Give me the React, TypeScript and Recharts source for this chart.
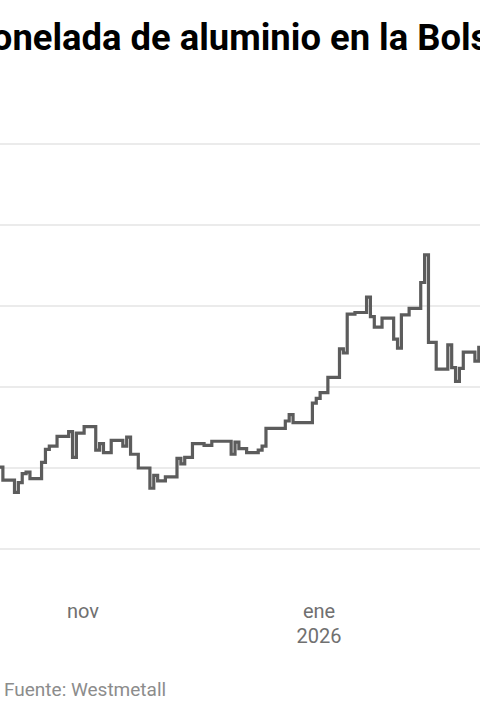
import React from 'react';
import { LineChart, Line, XAxis, YAxis, CartesianGrid } from 'recharts';

// LME aluminium cash price (USD / t), trading days
const dates = [
  '2025-10-09', '2025-10-10', '2025-10-13', '2025-10-14', '2025-10-15', '2025-10-16', '2025-10-17',
  '2025-10-20', '2025-10-21', '2025-10-22', '2025-10-23', '2025-10-24',
  '2025-10-27', '2025-10-28', '2025-10-29', '2025-10-30', '2025-10-31',
  '2025-11-03', '2025-11-04', '2025-11-05', '2025-11-06', '2025-11-07',
  '2025-11-10', '2025-11-11', '2025-11-12', '2025-11-13', '2025-11-14',
  '2025-11-17', '2025-11-18', '2025-11-19', '2025-11-20', '2025-11-21',
  '2025-11-24', '2025-11-25', '2025-11-26', '2025-11-27', '2025-11-28',
  '2025-12-01', '2025-12-02', '2025-12-03', '2025-12-04', '2025-12-05',
  '2025-12-08', '2025-12-09', '2025-12-10', '2025-12-11', '2025-12-12',
  '2025-12-15', '2025-12-16', '2025-12-17', '2025-12-18', '2025-12-19',
  '2025-12-22', '2025-12-23', '2025-12-24', '2025-12-29', '2025-12-30', '2025-12-31',
  '2026-01-02', '2026-01-05', '2026-01-06', '2026-01-07', '2026-01-08', '2026-01-09',
  '2026-01-12', '2026-01-13', '2026-01-14', '2026-01-15', '2026-01-16',
  '2026-01-19', '2026-01-20', '2026-01-21', '2026-01-22', '2026-01-23',
  '2026-01-26', '2026-01-27', '2026-01-28', '2026-01-29', '2026-01-30',
  '2026-02-02', '2026-02-03', '2026-02-04', '2026-02-05', '2026-02-06',
  '2026-02-09', '2026-02-10', '2026-02-11',
];

const prices = [
  2801, 2785, 2770, 2782, 2793, 2795, 2787,
  2807, 2823, 2827, 2827, 2839,
  2845, 2813, 2843, 2843, 2851,
  2822, 2830, 2819, 2819, 2834,
  2827, 2838, 2817, 2817, 2800,
  2775, 2791, 2784, 2784, 2789,
  2812, 2805, 2813, 2813, 2830,
  2828, 2828, 2833, 2833, 2833,
  2817, 2832, 2824, 2824, 2819,
  2822, 2827, 2849, 2849, 2849,
  2858, 2866, 2856, 2880, 2886, 2893,
  2912, 2947, 2942, 2990, 2990, 2992,
  3011, 2987, 2974, 2974, 2985,
  2959, 2948, 2989, 2989, 2997,
  3029, 3063, 2955, 2955, 2922,
  2952, 2924, 2907, 2923, 2943,
  2932, 2949, 2958,
];

const tickDates = ['2025-11-01', '2026-01-01'];
const tickLabels = [['nov'], ['ene', '2026']];
const yTicks = [2700, 2800, 2900, 3000, 3100, 3200];

const data = dates.map((d, i) => ({ t: Date.parse(d), v: prices[i] }));
const xTicks = tickDates.map((d) => Date.parse(d));

const DAY = 86400000;
const nov1 = Date.parse('2025-11-01');
// visible window of the (cropped) chart
const xDomain = [nov1 - 22.745 * DAY, nov1 + 101.32 * DAY];

const MonthTick = (props: any) => {
  const { x, y, payload } = props;
  const idx = xTicks.indexOf(payload.value);
  const lines = idx >= 0 ? tickLabels[idx] : [];
  return (
    <g transform={`translate(${x - 5},${y})`}>
      <text textAnchor="middle" fill="#707070" fontSize={20} fontFamily="Roboto">
        {lines.map((l, i) => (
          <tspan key={i} x={0} dy={i === 0 ? 61 : 25}>{l}</tspan>
        ))}
      </text>
    </g>
  );
};

export default function App() {
  return (
    <div
      style={{
        position: 'fixed',
        left: 0,
        top: 0,
        width: 480,
        height: 720,
        overflow: 'hidden',
        background: '#fff',
        fontFamily: 'Roboto, sans-serif',
      }}
    >
      <div
        style={{
          position: 'absolute',
          top: 20,
          left: -20,
          whiteSpace: 'nowrap',
          fontSize: 36.4,
          lineHeight: '36px',
          fontWeight: 700,
          color: '#000',
        }}
      >
        tonelada de aluminio en la Bolsa
      </div>
      <div style={{ position: 'absolute', top: 0, left: 0 }}>
        <LineChart width={480} height={720} data={data} margin={{ top: 144, right: 0, bottom: 0, left: 0 }}>
          <CartesianGrid horizontal vertical={false} stroke="#e5e5e5" strokeWidth={1.5} />
          <XAxis
            dataKey="t"
            type="number"
            scale="time"
            domain={xDomain}
            allowDataOverflow
            ticks={xTicks}
            tick={<MonthTick />}
            tickLine={false}
            axisLine={false}
            height={171}
            interval={0}
          />
          <YAxis hide domain={[2700, 3200]} ticks={yTicks} />
          <Line
            type="stepAfter"
            dataKey="v"
            stroke="#5c5c5c"
            strokeWidth={3.2}
            dot={false}
            isAnimationActive={false}
          />
        </LineChart>
      </div>
      <div
        style={{
          position: 'absolute',
          left: 4,
          top: 679,
          fontSize: 19,
          lineHeight: '22px',
          color: '#8c8c8c',
          whiteSpace: 'nowrap',
        }}
      >
        Fuente: Westmetall
      </div>
    </div>
  );
}
